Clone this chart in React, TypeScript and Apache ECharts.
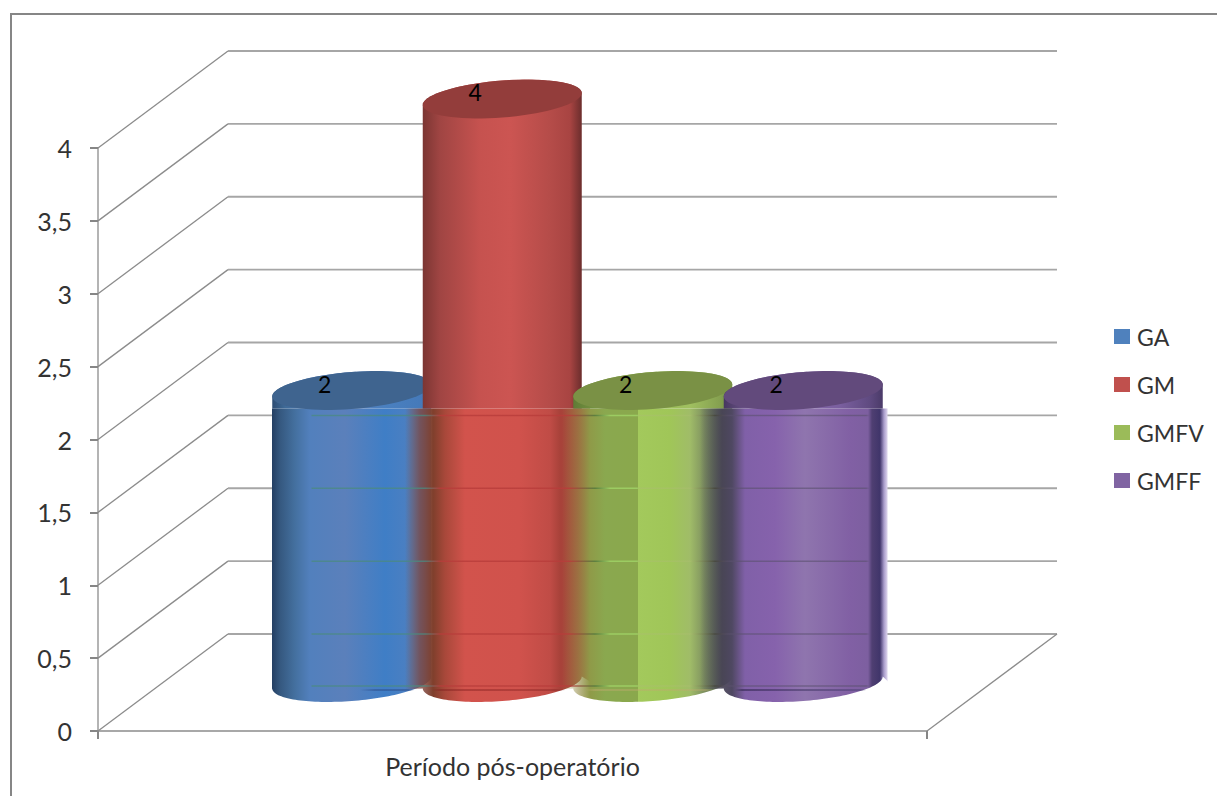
import React, { useEffect, useRef } from "react";
import * as echarts from "echarts";

// Chart content
const categories = ["Período pós-operatório"];
const seriesNames = ["GA", "GM", "GMFV", "GMFF"];
const gaValues = [2];
const gmValues = [4];
const gmfvValues = [2];
const gmffValues = [2];
const yTicks = [0, 0.5, 1, 1.5, 2, 2.5, 3, 3.5, 4];
const bandedTicks = [0, 0.5, 1, 1.5];

const legendColors = ["#4f81bd", "#c0504d", "#9bbb59", "#8064a2"];
const capColors = ["#3f648f", "#933d3b", "#7a9145", "#624a7c"];

type Stop = [number, string];

// Horizontal shading of each cylinder, above and below the soft band; x in pixels
const upperShade: Stop[][] = [
  [[272, "#2c4c72"], [285, "#3f6a97"], [310, "#4f7ab5"], [350, "#5a7fb8"], [385, "#4a80c0"], [431, "#4478b8"]],
  [[422, "#7a3532"], [440, "#a04543"], [480, "#c6524f"], [510, "#cc5552"], [550, "#b54c49"], [570, "#a84442"], [581, "#6f2f2e"]],
  [[572, "#5e7a35"], [600, "#7a9a44"], [640, "#96ba52"], [690, "#a0c060"], [720, "#85a050"], [732, "#6b8a40"]],
  [[724, "#473760"], [745, "#6a5288"], [790, "#866aab"], [840, "#7a5f9f"], [870, "#5f4a80"], [883, "#4a3a68"]],
];
const lowerShade: Stop[][] = [
  [[272, "#243f63"], [280, "#35587f"], [295, "#44709f"], [310, "#5280bd"], [345, "#5b80bb"], [385, "#3f7ec6"], [405, "#4a7fc2"], [431, "#5a7fae"]],
  [[405, "rgba(138,74,58,0)"], [420, "rgba(125,68,62,0.75)"], [433, "#7f3f2c"], [445, "#a8483a"], [465, "#d2534c"], [520, "#d0524c"], [550, "#c04c46"], [560, "#a8423a"], [590, "#a84a3c"]],
  [[562, "rgba(150,140,70,0)"], [578, "rgba(148,140,70,0.6)"], [590, "#8f9a48"], [605, "#8aa84f"], [637.9, "#8aa84c"], [638, "#a3c95c"], [670, "#a0c658"], [690, "#a0bc68"], [705, "#7d8f5f"], [732, "#556050"]],
  [[700, "rgba(69,69,85,0)"], [722, "rgba(70,65,85,0.9)"], [732, "#4f4862"], [745, "#8060a8"], [775, "#8662ac"], [805, "#8f75ae"], [850, "#8160a4"], [868, "#7d5fa0"], [872, "#4f3f72"], [880, "#40356a"], [884, "#a99ccb"], [887, "#d8cfea"], [888, "rgba(216,207,234,0)"]],
];
const bandLineShade: Stop[] = [
  [311, "rgba(74,138,128,0)"], [312, "rgba(74,138,128,0.75)"], [425, "rgba(74,138,128,0.75)"], [440, "rgba(184,60,58,0.8)"],
  [570, "rgba(184,60,58,0.8)"], [595, "rgba(80,120,60,0.8)"], [610, "#9ccc62"], [637, "#9ccc62"], [639, "rgba(170,190,110,0.5)"],
  [690, "rgba(170,190,110,0.5)"], [715, "rgba(70,70,60,0.8)"], [730, "rgba(90,80,110,0.6)"], [866, "rgba(90,80,110,0.6)"], [870, "rgba(90,80,110,0)"],
];
const floorSeamShade: Stop[] = [
  [360, "rgba(40,70,130,0)"], [375, "rgba(40,70,130,0.6)"], [408, "rgba(40,70,130,0.6)"], [414, "rgba(40,70,130,0)"],
  [432, "rgba(130,30,30,0)"], [440, "rgba(130,30,30,0.6)"], [555, "rgba(130,30,30,0.5)"], [565, "rgba(130,30,30,0)"],
  [585, "rgba(190,170,110,0)"], [595, "rgba(190,170,110,0.6)"], [705, "rgba(190,170,110,0.5)"], [712, "rgba(190,170,110,0)"],
  [735, "rgba(40,30,70,0)"], [742, "rgba(40,30,70,0.7)"], [860, "rgba(70,60,110,0.6)"], [866, "rgba(70,60,110,0)"],
];

// Cabinet projection of the 3D box
const DEPTH_X = 130;
const DEPTH_Y = 97;
const CYL_STEP = 150.5;
const CYL_RX = 79.5;
const CYL_RY = 18.5;
const CYL_SHEAR = 0.0755;
const FONT = "Lato";

const linear = (stops: Stop[]) => {
  const a = stops[0][0];
  const b = stops[stops.length - 1][0];
  return {
    type: "linear",
    x: a,
    y: 0,
    x2: b,
    y2: 0,
    global: true,
    colorStops: stops.map(([x, color]) => ({ offset: (x - a) / (b - a), color })),
  };
};

const ellipsePoint = (cx: number, cy: number, t: number) => [
  cx + CYL_RX * Math.cos(t),
  cy + CYL_RY * Math.sin(t) - CYL_SHEAR * CYL_RX * Math.cos(t),
];

const ellipsePoints = (cx: number, cy: number, from: number, to: number, n = 72) => {
  const pts: number[][] = [];
  for (let i = 0; i <= n; i++) pts.push(ellipsePoint(cx, cy, from + ((to - from) * i) / n));
  return pts;
};

const renderWall = (params: any, api: any) => {
  const sys = params.coordSys;
  const y = api.coord([0, api.value(1)])[1];
  const left = sys.x;
  const right = sys.x + sys.width;
  const children: any[] = [
    {
      type: "line",
      shape: { x1: left, y1: y, x2: left + DEPTH_X, y2: y - DEPTH_Y },
      style: { stroke: "#8c8c8c", lineWidth: 1.3 },
    },
    {
      type: "line",
      shape: { x1: left + DEPTH_X, y1: y - DEPTH_Y, x2: right + DEPTH_X, y2: y - DEPTH_Y },
      style: { stroke: "#a6a6a6", lineWidth: 1.8 },
    },
  ];
  if (api.value(1) === 0) {
    children.push({
      type: "line",
      shape: { x1: right, y1: y, x2: right + DEPTH_X, y2: y - DEPTH_Y },
      style: { stroke: "#8c8c8c", lineWidth: 1.3 },
    });
  }
  return { type: "group", children };
};

const renderCylinder = (index: number) => (params: any, api: any) => {
  const value = api.value(1);
  const cx = api.coord([0, 0])[0] + DEPTH_X / 2 + (index - 1.5) * CYL_STEP;
  const topY = api.coord([0, value])[1] - DEPTH_Y / 2 - 0.5;
  const baseY = api.coord([0, 0])[1] - DEPTH_Y / 2;
  const splitY = api.coord([0, 2])[1] - 31;

  const lower = lowerShade[index];
  const lowerL = lower[0][0];
  const lowerR = lower[lower.length - 1][0];
  const edgeY = baseY + 7;
  const floorEdge = ellipsePoints(cx, baseY, Math.PI, 0).reverse();
  const lowerPoly = [
    [lowerL, splitY],
    [lowerR, splitY],
    [lowerR, edgeY - 8],
    ...(lowerR > cx + CYL_RX ? [[cx + CYL_RX, baseY - 6]] : []),
    ...floorEdge,
    ...(lowerL < cx - CYL_RX ? [[lowerL, edgeY]] : []),
  ];

  const bodyPoly = [
    ...ellipsePoints(cx, topY, Math.PI, 2 * Math.PI),
    [cx + CYL_RX, splitY],
    [cx - CYL_RX, splitY],
  ];

  return {
    type: "group",
    children: [
      { type: "polygon", shape: { points: lowerPoly }, style: { fill: linear(lower) } },
      { type: "polygon", shape: { points: bodyPoly }, style: { fill: linear(upperShade[index]) } },
      {
        type: "polygon",
        shape: { points: ellipsePoints(cx, topY, 0, 2 * Math.PI) },
        style: { fill: capColors[index] },
      },
      {
        // pale glint along the far rim of the cap
        type: "polyline",
        shape: { points: ellipsePoints(cx, topY - 0.6, -Math.PI / 2 + 0.05, -Math.PI / 2 + 0.62, 12) },
        style: { stroke: "rgba(255,255,255,0.45)", lineWidth: 1, fill: "none" },
      },
      {
        type: "text",
        style: {
          text: String(value),
          x: cx - 27,
          y: topY - 7,
          fill: "#000000",
          font: `23px ${FONT}`,
          textAlign: "center",
          textVerticalAlign: "middle",
        },
      },
    ],
  };
};

// Thin bands that show through the lower part of the cylinders
const renderBandLine = (params: any, api: any) => {
  const tick = api.value(1);
  const y = api.coord([0, tick])[1] - DEPTH_Y;
  const a = bandLineShade[0][0];
  const b = bandLineShade[bandLineShade.length - 1][0];
  const children: any[] = [
    {
      type: "line",
      shape: { x1: a, y1: y, x2: b, y2: y },
      style: { stroke: linear(bandLineShade), lineWidth: 1.5 },
    },
  ];
  if (tick === 0) {
    const floorY = api.coord([0, 0])[1];
    children.push({
      type: "line",
      shape: { x1: a, y1: floorY - 45, x2: b, y2: floorY - 45 },
      style: { stroke: linear(bandLineShade), lineWidth: 1.5 },
    });
    const sa = floorSeamShade[0][0];
    const sb = floorSeamShade[floorSeamShade.length - 1][0];
    children.push({
      type: "line",
      shape: { x1: sa, y1: floorY - 41, x2: sb, y2: floorY - 41 },
      style: { stroke: linear(floorSeamShade), lineWidth: 1.5 },
    });
  }
  return { type: "group", children };
};

const cylinder = (index: number, values: number[]) => ({
  type: "custom",
  name: seriesNames[index],
  z: 3 + index,
  silent: true,
  itemStyle: { color: legendColors[index] },
  renderItem: renderCylinder(index),
  encode: { x: 0, y: 1 },
  data: values.map((v, i) => [i, v]),
});

export default function App() {
  const ref = useRef<HTMLDivElement>(null);

  useEffect(() => {
    const chart = echarts.init(ref.current!, undefined, { renderer: "svg" });
    chart.setOption({
      animation: false,
      backgroundColor: "#ffffff",
      grid: { left: 98, right: 290, top: 148, bottom: 65 },
      xAxis: {
        type: "category",
        data: categories,
        axisLine: { lineStyle: { color: "#a8a8a8", width: 2 } },
        axisTick: { show: true, length: 8, alignWithLabel: false, lineStyle: { color: "#868686", width: 2 } },
        axisLabel: { color: "#333333", fontFamily: FONT, fontSize: 25, margin: 22 },
      },
      yAxis: {
        type: "value",
        min: 0,
        max: 4,
        interval: 0.5,
        splitLine: { show: false },
        axisLine: { show: true, lineStyle: { color: "#b4b4b4", width: 2 } },
        axisTick: { show: true, length: 8, lineStyle: { color: "#868686", width: 2 } },
        axisLabel: {
          color: "#333333",
          fontFamily: FONT,
          fontSize: 25,
          margin: 26,
          formatter: (v: number) => String(v).replace(".", ","),
        },
      },
      legend: {
        data: seriesNames,
        orient: "vertical",
        left: 1109,
        top: 320,
        itemWidth: 16,
        itemHeight: 15,
        itemGap: 25,
        icon: "rect",
        selectedMode: false,
        textStyle: { color: "#333333", fontFamily: FONT, fontSize: 23, padding: [0, 0, 0, 2] },
      },
      graphic: [
        {
          type: "polyline",
          silent: true,
          shape: { points: [[11, 796], [11, 14], [1217, 14]] },
          style: { stroke: "#868686", lineWidth: 2, fill: "none" },
        },
      ],
      series: [
        {
          type: "custom",
          name: "wall",
          z: 1,
          silent: true,
          renderItem: renderWall,
          encode: { x: 0, y: 1 },
          data: yTicks.map((t) => [0, t]),
        },
        cylinder(0, gaValues),
        cylinder(1, gmValues),
        cylinder(2, gmfvValues),
        cylinder(3, gmffValues),
        {
          type: "custom",
          name: "bands",
          z: 8,
          silent: true,
          renderItem: renderBandLine,
          encode: { x: 0, y: 1 },
          data: bandedTicks.map((t) => [0, t]),
        },
      ],
    });
    return () => chart.dispose();
  }, []);

  return (
    <div
      ref={ref}
      style={{ position: "absolute", left: 0, top: 0, width: 1217, height: 796 }}
    />
  );
}
